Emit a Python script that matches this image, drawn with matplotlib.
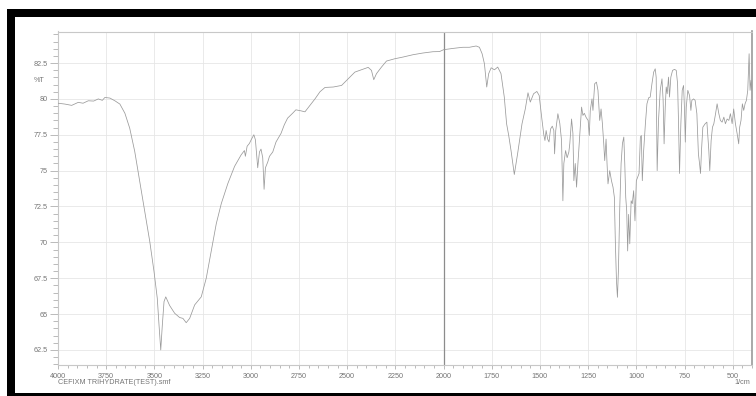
import matplotlib
matplotlib.use("Agg")
import matplotlib.pyplot as plt
from matplotlib.patches import Rectangle
from matplotlib.ticker import MultipleLocator

plt.rcParams['font.family'] = ['Liberation Sans', 'DejaVu Sans']

# FTIR spectrum: wavenumber (1/cm) and transmittance (%T)
wavenumber = [
    4000, 3964, 3929, 3895, 3870, 3843, 3815, 3791, 3770, 3757, 3731, 3705, 3679,
    3653, 3628, 3602, 3576, 3550, 3524, 3502, 3485, 3476, 3467, 3459, 3450, 3441,
    3421, 3395, 3369, 3352, 3335, 3317, 3291, 3257, 3231, 3205, 3179, 3153, 3119,
    3084, 3050, 3033, 3028, 3019, 3007, 2998, 2984, 2976, 2969, 2964, 2955, 2947,
    2938, 2931, 2924, 2912, 2903, 2886, 2869, 2843, 2826, 2809, 2783, 2766, 2740,
    2719, 2693, 2667, 2641, 2615, 2572, 2529, 2495, 2460, 2426, 2391, 2374, 2362,
    2348, 2322, 2296, 2253, 2210, 2159, 2107, 2055, 2021, 2000, 1952, 1900, 1866,
    1831, 1814, 1800, 1788, 1776, 1766, 1753, 1736, 1719, 1702, 1685, 1673, 1662,
    1650, 1633, 1616, 1593, 1576, 1562, 1550, 1533, 1516, 1504, 1490, 1480, 1474,
    1468, 1460, 1453, 1445, 1436, 1428, 1424, 1418, 1407, 1397, 1388, 1381, 1376,
    1367, 1359, 1350, 1345, 1336, 1329, 1324, 1317, 1310, 1303, 1293, 1284, 1277,
    1270, 1260, 1250, 1244, 1239, 1230, 1225, 1216, 1207, 1199, 1190, 1183, 1176,
    1169, 1164, 1157, 1152, 1147, 1138, 1129, 1121, 1114, 1109, 1103, 1098, 1093,
    1086, 1079, 1072, 1065, 1060, 1055, 1050, 1045, 1040, 1034, 1027, 1021, 1014,
    1007, 1000, 993, 986, 979, 974, 969, 962, 953, 945, 936, 928, 919, 910, 902,
    897, 892, 885, 876, 867, 861, 856, 850, 845, 840, 833, 828, 821, 812, 802, 793,
    786, 781, 776, 769, 762, 755, 750, 746, 741, 733, 724, 717, 712, 703, 695, 686,
    678, 672, 667, 662, 655, 643, 634, 624, 619, 612, 605, 598, 589, 581, 572, 564,
    555, 546, 538, 529, 520, 512, 503, 495, 486, 477, 469, 464, 457, 450, 443, 436,
    429, 422, 415, 410, 405, 400,
]
transmittance = [
    79.70, 79.64, 79.55, 79.76, 79.70, 79.87, 79.85, 80.00, 79.90, 80.10, 80.06, 79.87, 79.64,
    79.00, 77.96, 76.34, 74.24, 72.15, 70.06, 67.97, 66.10, 64.24, 62.50, 64.20, 65.87, 66.20,
    65.60, 65.06, 64.76, 64.70, 64.40, 64.70, 65.64, 66.20, 67.50, 69.40, 71.30, 72.70, 74.10,
    75.30, 76.10, 76.40, 76.00, 76.70, 76.90, 77.15, 77.50, 77.15, 76.00, 75.20, 76.30, 76.50,
    75.90, 73.70, 75.20, 75.60, 76.00, 76.30, 77.00, 77.60, 78.20, 78.66, 79.00, 79.24, 79.17,
    79.10, 79.55, 80.00, 80.50, 80.80, 80.83, 80.94, 81.40, 81.87, 82.03, 82.20, 81.99, 81.34,
    81.76, 82.22, 82.64, 82.80, 82.92, 83.08, 83.20, 83.29, 83.30, 83.43, 83.52, 83.60, 83.60,
    83.69, 83.60, 83.15, 82.45, 80.83, 81.76, 82.17, 82.03, 82.22, 81.76, 80.13, 78.27, 77.45,
    76.40, 74.73, 76.17, 78.27, 79.30, 80.43, 79.78, 80.36, 80.52, 80.24, 78.60, 77.50, 77.10,
    77.80, 77.20, 77.00, 77.90, 78.10, 77.80, 76.17, 77.80, 78.97, 78.30, 77.10, 72.90, 75.50,
    76.40, 75.90, 76.30, 76.90, 78.60, 77.60, 74.30, 75.50, 73.85, 75.50, 77.60, 79.43, 78.85,
    79.00, 78.70, 78.50, 77.45, 79.20, 80.00, 79.20, 81.06, 81.17, 80.60, 78.50, 79.30, 78.27,
    76.87, 75.70, 77.20, 75.50, 74.08, 75.00, 74.30, 73.85, 73.15, 70.10, 67.30, 66.17, 68.00,
    72.40, 75.50, 76.90, 77.34, 75.50, 73.15, 72.20, 69.40, 71.95, 69.90, 72.90, 72.70, 73.60,
    71.50, 74.30, 74.55, 74.80, 77.34, 77.45, 74.30, 76.40, 78.27, 79.66, 80.08, 80.13, 81.06, 81.87, 82.10,
    81.50, 75.00, 78.50, 80.60, 81.40, 79.90, 76.87, 79.43, 80.83, 80.36, 81.52, 80.13, 81.52, 81.99, 82.06, 81.99,
    81.06, 78.27, 74.80, 78.27, 80.60, 80.94, 79.20, 76.99, 79.43, 80.60, 80.24, 79.20, 79.90, 80.00, 79.90, 78.97,
    76.17, 75.48, 74.80, 76.40, 78.03, 78.27, 78.38, 76.40, 75.00, 77.10, 78.03, 78.27, 78.97, 79.66, 78.97, 78.50,
    78.38, 78.73, 78.27, 78.60, 78.50, 78.97, 78.27, 79.30, 78.27, 77.57, 76.87, 78.03, 78.50, 79.66, 79.20, 79.66,
    79.90, 80.60, 83.15, 80.60, 81.30, 80.60,
]

x_ticks = [4000, 3750, 3500, 3250, 3000, 2750, 2500, 2250, 2000, 1750, 1500, 1250, 1000, 750, 500]
y_ticks = [62.5, 65, 67.5, 70, 72.5, 75, 77.5, 80, 82.5]
y_tick_labels = ["62.5", "65", "67.5", "70", "72.5", "75", "77.5", "80", "82.5"]
file_name = "CEFIXM TRIHYDRATE(TEST).smf"
x_unit = "1/cm"
y_unit = "%T"

W, H = 756, 396
fig = plt.figure(figsize=(W / 100, H / 100), dpi=100)
fig.patch.set_facecolor("white")

left, right, top, bottom = 58, 752, 31.5, 365
ax = fig.add_axes([left / W, 1 - bottom / H, (right - left) / W, (bottom - top) / H])

text_c = "#757575"
fs = 5.2

ax.set_xlim(4000, 400)
ax.set_ylim(61.45, 84.7)

ax.set_xticks(x_ticks)
ax.set_xticklabels([str(t) for t in x_ticks])
ax.xaxis.set_minor_locator(MultipleLocator(50))
ax.set_yticks(y_ticks)
ax.set_yticklabels(y_tick_labels)
ax.yaxis.set_minor_locator(MultipleLocator(0.5))

ax.grid(True, which="major", color="#e6e6e6", linewidth=0.6)
ax.axvline(2000, color="#8c8c8c", linewidth=0.9, zorder=2)

ax.plot(wavenumber, transmittance, color="#9a9a9a", linewidth=0.55, zorder=3)

for name, sp in ax.spines.items():
    sp.set_color("#c8c8c8")
    sp.set_linewidth(0.8)
ax.spines["right"].set_color("#9a9a9a")
ax.spines["right"].set_linewidth(1.2)

ax.tick_params(axis="y", which="major", direction="out", length=6, width=0.5,
               color="#a0a0a0", labelsize=fs, labelcolor=text_c, pad=1.5)
ax.tick_params(axis="y", which="minor", direction="out", length=3.5, width=0.5, color="#a0a0a0")
ax.tick_params(axis="x", which="major", direction="out", length=3, width=0.5,
               color="#a0a0a0", labelsize=fs, labelcolor=text_c, pad=3)
ax.tick_params(axis="x", which="minor", direction="out", length=2.2, width=0.5, color="#a0a0a0")

# y-axis unit label placed between the two top tick labels
ax.text(-0.0195, 81.25, y_unit, transform=ax.get_yaxis_transform(), ha="right", va="center",
        fontsize=fs, color=text_c)

fig.text(58 / W, 1 - 383 / H, file_name, ha="left", va="center", fontsize=fs, color=text_c)
fig.text(750 / W, 1 - 383 / H, x_unit, ha="right", va="center", fontsize=fs, color=text_c)

# black frame bands around the report
fig.patches.append(Rectangle((7 / W, 1 - 17 / H), 1 - 7 / W, 8 / H, transform=fig.transFigure,
                             facecolor="black", edgecolor="none", zorder=10))
fig.patches.append(Rectangle((7 / W, 0), 8 / W, 1 - 9 / H, transform=fig.transFigure,
                             facecolor="black", edgecolor="none", zorder=10))
fig.patches.append(Rectangle((7 / W, 0), 1 - 7 / W, 3.3 / H, transform=fig.transFigure,
                             facecolor="black", edgecolor="none", zorder=10))

fig.savefig("out.png", dpi=100)
